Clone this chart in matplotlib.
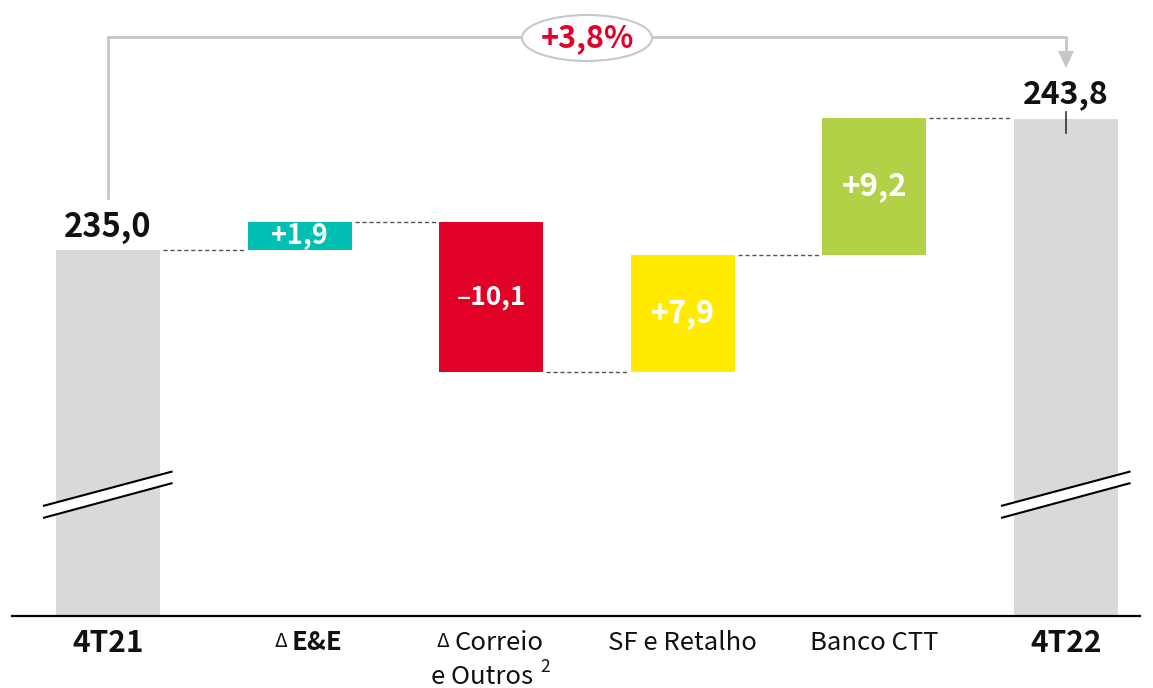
import matplotlib
matplotlib.use("Agg")
import matplotlib.pyplot as plt
from matplotlib.patches import Ellipse, Polygon

plt.rcParams['font.family'] = ['Noto Sans CJK SC', 'DejaVu Sans']

# ---- data ----
categories = ['4T21', 'E&E', 'Correio', 'SF e Retalho', 'Banco CTT', '4T22']
start_total = 235.0
end_total = 243.8
deltas = [1.9, -10.1, 7.9, 9.2]
delta_labels = ['+1,9', '–10,1', '+7,9', '+9,2']
total_labels = ['235,0', '243,8']
growth_label = '+3,8%'
delta_colors = ['#00bfb3', '#e10026', '#ffea00', '#b3d147']
total_color = '#d9d9d9'

# ---- figure / axes (pixel-like mapping) ----
W_PX, H_PX = 1153, 688
fig = plt.figure(figsize=(W_PX / 100, H_PX / 100), dpi=100)
ax = fig.add_axes([0, 0, 1, 1])
STEP = 191.6       # px per category
X_C0 = 108         # px of first category centre
Y_TOP, Y_BOT = 251.8, 205.6
def px2x(px):
    return (px - X_C0) / STEP
def py2y(py):
    return Y_TOP - py * (Y_TOP - Y_BOT) / H_PX
def dx(px):
    return px / STEP
def dy(px):
    return px * (Y_TOP - Y_BOT) / H_PX

ax.set_xlim(px2x(0), px2x(W_PX))
ax.set_ylim(Y_BOT, Y_TOP)
ax.axis('off')

y_base = py2y(616)
BW = 104 / STEP
n = len(categories)
TXT = '#111111'

# totals
ax.bar([0, n - 1], [start_total - y_base, end_total - y_base], bottom=y_base,
       width=BW, color=total_color, zorder=2)

# deltas
levels = [start_total]
cum = start_total
sizes = [19.5, 19, 22, 22.5]
for i, d in enumerate(deltas):
    bottom = min(cum, cum + d)
    ax.bar(i + 1, abs(d), bottom=bottom, width=BW, color=delta_colors[i], zorder=2)
    ax.text(i + 1, bottom + abs(d) / 2, delta_labels[i], ha='center', va='center',
            color='white', fontsize=sizes[i], fontweight='bold', zorder=4)
    cum += d
    levels.append(cum)

# connectors
gap = dx(3)
for i in range(n - 1):
    lvl = levels[i]
    ax.plot([i + BW / 2 + gap, i + 1 - BW / 2 - gap], [lvl, lvl], color='#555555',
            lw=1.0, linestyle=(0, (3, 2)), zorder=1)

# baseline
ax.plot([px2x(12), px2x(1140)], [y_base, y_base], color='black', lw=1.6, zorder=3)

# axis breaks
for i in [0, n - 1]:
    xl, xr = i + dx(-64), i + dx(63.5)
    yl_u, yr_u = py2y(505.7), py2y(471.7)
    yl_l, yr_l = py2y(517.7), py2y(483.3)
    ax.add_patch(Polygon([(xl, yl_u), (xr, yr_u), (xr, yr_l), (xl, yl_l)],
                         closed=True, facecolor='white', edgecolor='none', zorder=3))
    ax.plot([xl, xr], [yl_u, yr_u], color='black', lw=1.5, zorder=4)
    ax.plot([xl, xr], [yl_l, yr_l], color='black', lw=1.5, zorder=4)

# total labels
ax.text(0, py2y(228), total_labels[0], ha='center', va='center', fontsize=23.5,
        fontweight='bold', color=TXT)
ax.text(n - 1, py2y(94), total_labels[1], ha='center', va='center', fontsize=23,
        fontweight='bold', color=TXT)
ax.plot([n - 1, n - 1], [py2y(112), py2y(133)], color='#333333', lw=1.2, zorder=4)

# growth bracket
gcol = '#c6c6c6'
ax.plot([0, 0, n - 1, n - 1], [py2y(198), py2y(37), py2y(37), py2y(52)],
        color=gcol, lw=2, solid_joinstyle='miter', zorder=1)
ax.add_patch(Polygon([(n - 1 - dx(8), py2y(51)), (n - 1 + dx(8), py2y(51)),
                      (n - 1, py2y(68))], closed=True, facecolor=gcol,
                     edgecolor='none', zorder=1))
ax.add_patch(Ellipse((px2x(587), py2y(38)), width=dx(130), height=dy(46),
                     facecolor='white', edgecolor='#c8c8c8', lw=1.5, zorder=3))
ax.text(px2x(587), py2y(38), growth_label, ha='center', va='center', fontsize=22,
        fontweight='bold', color='#e2002a', zorder=4)

# category labels
ly1 = py2y(643)
ax.text(0, ly1, categories[0], ha='center', va='center', fontsize=21.5,
        fontweight='bold', color=TXT)
ax.text(n - 1, ly1, categories[5], ha='center', va='center', fontsize=21.5,
        fontweight='bold', color=TXT)
ax.text(px2x(287), ly1 + dy(1), 'Δ', ha='right', va='center', fontsize=14,
        color=TXT)
ax.text(px2x(292), ly1, categories[1], ha='left', va='center', fontsize=18.5,
        fontweight='bold', color=TXT)
ax.text(px2x(449), ly1 + dy(1), 'Δ', ha='right', va='center', fontsize=14,
        color=TXT)
ax.text(px2x(454), ly1, categories[2], ha='left', va='center', fontsize=18.5,
        color=TXT)
ax.text(px2x(533), py2y(684), 'e Outros', ha='right', va='baseline', fontsize=18.5,
        color=TXT)
ax.text(px2x(540), py2y(672), '2', ha='left', va='baseline', fontsize=12.5,
        color=TXT)
ax.text(3, ly1, categories[3], ha='center', va='center', fontsize=18.5,
        color=TXT)
ax.text(4, ly1, categories[4], ha='center', va='center', fontsize=18.5,
        color=TXT)

fig.savefig('out.png', dpi=100)
